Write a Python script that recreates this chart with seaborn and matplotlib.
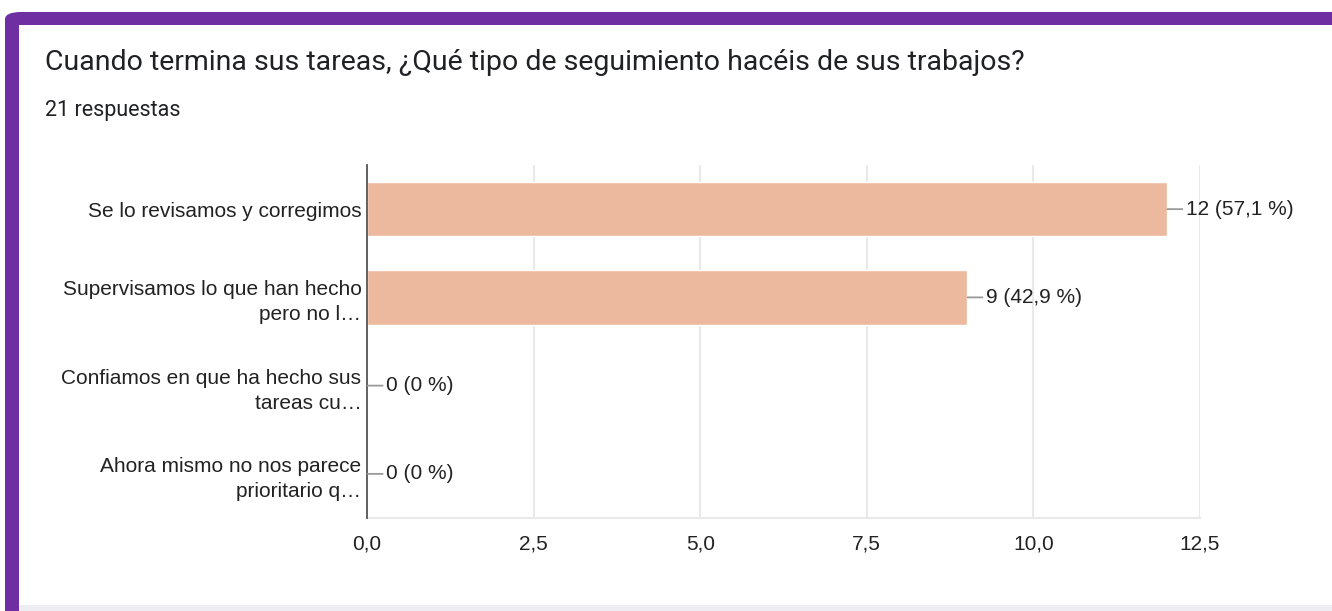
import matplotlib
matplotlib.use("Agg")
import matplotlib.pyplot as plt
import seaborn as sns
import pandas as pd
from matplotlib.patches import FancyBboxPatch, Rectangle

categories = [
    "Se lo revisamos y corregimos",
    "Supervisamos lo que han hecho\npero no l\u2026",
    "Confiamos en que ha hecho sus\ntareas cu\u2026",
    "Ahora mismo no nos parece\nprioritario q\u2026",
]
counts = [12, 9, 0, 0]
percents = ["57,1", "42,9", "0", "0"]
x_ticks = [0, 2.5, 5.0, 7.5, 10.0, 12.5]
x_tick_labels = ["0,0", "2,5", "5,0", "7,5", "10,0", "12,5"]

title = "Cuando termina sus tareas, \u00bfQu\u00e9 tipo de seguimiento hac\u00e9is de sus trabajos?"
subtitle = "21 respuestas"

sns.set_style("white")
plt.rcParams["font.family"] = ["Liberation Sans", "DejaVu Sans"]

W, H = 1332, 611
fig = plt.figure(figsize=(W / 100, H / 100), dpi=100)

# card frame: purple border top/left, white card
def px(x, y):
    return x / W, 1 - y / H

frame = FancyBboxPatch(px(5, 700), (1500 - 5) / W, (700 - 12) / H,
                       boxstyle="round,pad=0,rounding_size=0.012",
                       transform=fig.transFigure, facecolor="#6f2fa3",
                       edgecolor="none", zorder=-3)
fig.patches.append(frame)
fig.patches.append(Rectangle(px(19, 611), (W - 19 + 50) / W, 6 / H,
                             transform=fig.transFigure, facecolor="#eeedf3",
                             edgecolor="none", zorder=-2))
fig.patches.append(Rectangle(px(19, 605), (W - 19 + 50) / W, (605 - 25) / H,
                             transform=fig.transFigure, facecolor="white",
                             edgecolor="none", zorder=-1))

fig.text(45 / W, 1 - 62 / H, title, fontsize=20.5, color="#202124",
         family=["Roboto", "DejaVu Sans"], va="center", ha="left")
fig.text(45 / W, 1 - 110 / H, subtitle, fontsize=15.5, color="#202124",
         family=["Roboto", "DejaVu Sans"], va="center", ha="left")

ax = fig.add_axes([367 / W, 1 - 518 / H, (1200 - 367) / W, (518 - 165) / H])
ax.set_facecolor("none")
ax.set_zorder(2)

df = pd.DataFrame({"categoria": categories, "n": counts})
sns.barplot(data=df, x="n", y="categoria", orient="h", color="#edb99e",
            saturation=1, width=0.62, ax=ax, zorder=2)

ax.set_xlim(0, 12.5)
ax.set_ylim(3.5, -0.5)
ax.set_xticks(x_ticks)
ax.set_xticklabels(x_tick_labels)
ax.set_xlabel("")
ax.set_ylabel("")
ax.grid(axis="x", color="#e9e9e9", linewidth=1.5, zorder=0)
ax.set_axisbelow(True)
ax.tick_params(axis="x", length=0, pad=12, labelsize=15, labelcolor="#222222")
ax.tick_params(axis="y", length=0, pad=4, labelsize=15, labelcolor="#222222")
for lab in ax.get_yticklabels():
    lab.set_ha("right")
    lab.set_multialignment("right")
    lab.set_linespacing(1.4)

for s in ["top", "right"]:
    ax.spines[s].set_visible(False)
ax.spines["left"].set_color("#555555")
ax.spines["left"].set_linewidth(1.3)
ax.spines["left"].set_zorder(3)
ax.spines["bottom"].set_color("#e9e9e9")
ax.spines["bottom"].set_linewidth(1.5)

for i, (n, p) in enumerate(zip(counts, percents)):
    ax.annotate(f"{n} ({p} %)", xy=(n, i), xytext=(19, 0),
                textcoords="offset pixels", ha="left", va="center",
                fontsize=15, color="#222222",
                arrowprops=dict(arrowstyle="-", color="#9a9a9a", lw=1.3,
                                shrinkA=0, shrinkB=0.5),
                zorder=4)

fig.savefig("out.png", dpi=100)
